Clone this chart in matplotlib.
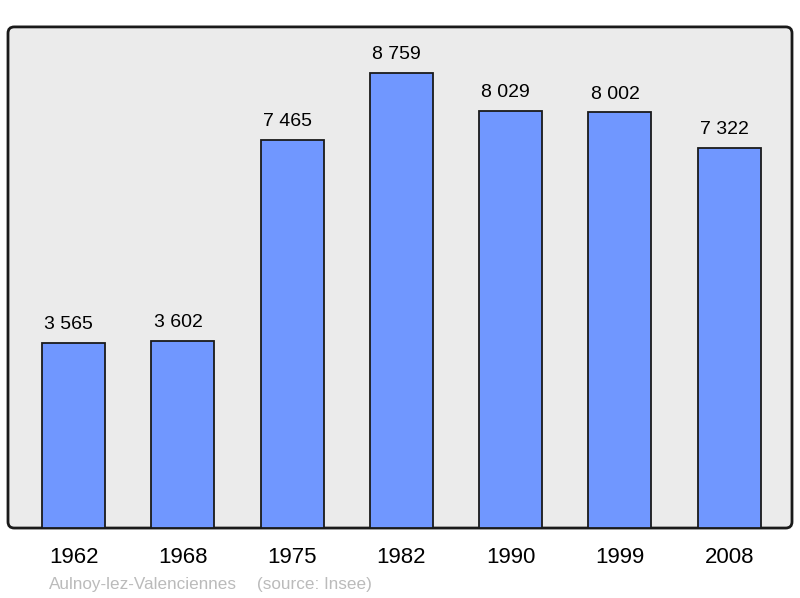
import matplotlib.pyplot as plt
from matplotlib.patches import FancyBboxPatch

years = ['1962', '1968', '1975', '1982', '1990', '1999', '2008']
population = [3565, 3602, 7465, 8759, 8029, 8002, 7322]
town = 'Aulnoy-lez-Valenciennes'
source = '(source: Insee)'

plt.rcParams['font.family'] = ['Liberation Sans', 'DejaVu Sans']

fig = plt.figure(figsize=(8, 5.98), dpi=100)
ax = fig.add_axes([0.01, 0.117, 0.98, 0.838])
ax.set_facecolor('none')
for s in ax.spines.values():
    s.set_visible(False)

panel = FancyBboxPatch((0, 0), 1, 1, boxstyle='round,pad=0,rounding_size=0.008',
                       transform=ax.transAxes, facecolor='#ebebeb',
                       edgecolor='#1a1a1a', linewidth=2, zorder=0,
                       mutation_aspect=784 / 501, clip_on=False)
ax.add_patch(panel)

x = range(len(years))
bars = ax.bar(x, population, width=0.576, color='#7097ff', edgecolor='#1a1a1a',
              linewidth=1.3, zorder=2)

# labels sit a little left of the bar centre in the original
for xi, v in zip(x, population):
    label = f'{v:,}'.replace(',', ' ')
    ax.annotate(label, (xi, v), xytext=(-3.5, 7), textcoords='offset points',
                ha='center', va='bottom', fontsize=14, color='black')

ax.set_xlim(-0.6, 6.575)
ax.set_ylim(0, 9645)
ax.set_yticks([])
ax.set_xticks(list(x))
ax.set_xticklabels(years, fontsize=16)
ax.tick_params(axis='x', length=0, pad=14)

fig.text(49 / 800, 1 - 584 / 598, town, fontsize=12.3, color='#bbbbbb', va='center')
fig.text(257 / 800, 1 - 584 / 598, source, fontsize=12.3, color='#bbbbbb', va='center')

plt.savefig('out.png', dpi=100)
plt.close()
